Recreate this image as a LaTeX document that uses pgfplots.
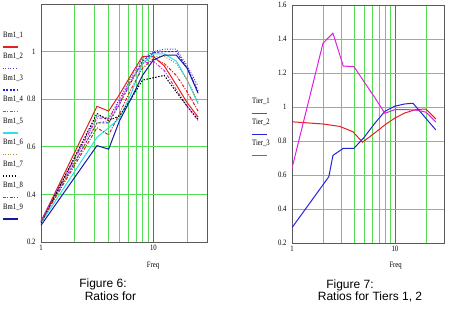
\documentclass[border=0pt]{standalone}
\usepackage{fontspec}
\setmainfont{Liberation Serif}
\newfontfamily\arial{Liberation Sans}
\newfontfamily\mcfont[FakeStretch=0.82]{Liberation Serif}
\usepackage{pgfplots}
\pgfplotsset{compat=1.18}
\definecolor{gridgreen}{HTML}{55DD55}
\definecolor{mred}{HTML}{E42020}
\definecolor{mpurple}{HTML}{5A3CD0}
\definecolor{mblue}{HTML}{2424D8}
\definecolor{mmag}{HTML}{E020E0}
\definecolor{mcyan}{HTML}{30E0E8}
\definecolor{mbrown}{HTML}{B08840}
\definecolor{mnavy}{HTML}{1818A8}
\pgfplotsset{legend image code/.code={\begin{pgfinterruptboundingbox}\draw[#1, line width=1.2pt] (0pt,-12pt) -- (15pt,-12pt);\end{pgfinterruptboundingbox}\path (0pt,0pt);}}
\begin{document}
\begin{tikzpicture}
\useasboundingbox (0,0) rectangle (451pt,311pt);
\begin{axis}[xmode=log, scale only axis, xmin=1, xmax=30,
  xtick={1,10}, xticklabels={1,10},
  minor xtick={2,3,4,5,6,7,8,9,20},
  xmajorgrids, xminorgrids, yminorgrids,
  major tick length=0pt, minor tick length=0pt,
  minor grid style={gridgreen, line width=0.7pt},
  major grid style={black!60, line width=0.7pt},
  axis line style={black!65, line width=0.7pt},
  tick label style={font=\mcfont\fontsize{8.2}{9}\selectfont},
  xticklabel style={anchor=north, yshift=0pt},
  yticklabel style={anchor=east, xshift=-2pt},
  xlabel={Freq},
  label style={font=\mcfont\fontsize{8.2}{9}\selectfont},
  legend cell align=left,
  legend style={draw=none, fill=none, font=\mcfont\fontsize{8.2}{9}\selectfont,
    row sep=14.5pt, column sep=0pt, inner sep=0pt,
    nodes={inner sep=0pt, text height=5.5pt, text depth=1.5pt}},
  at={(41pt,69pt)}, anchor=south west, width=166pt, height=238pt,
  ymin=0.2, ymax=1.2, ytick={0.2,0.4,0.6,0.8,1}, yticklabels={0.2,0.4,0.6,0.8,1},
  minor ytick={0.4,0.6,0.8,1},
  xlabel style={at={(axis description cs:0.675,0)}, anchor=center, yshift=-24pt},
  legend style={at={(axis description cs:-0.235,0.885)}, anchor=north west}]
\addplot[mred, line width=1pt] coordinates {(1,0.285)(3.15,0.77)(4,0.75)(5,0.82)(6.3,0.90)(8,0.98)(10,0.98)(12.5,0.94)(16,0.86)(20,0.785)(25,0.725)};
\addplot[mpurple, line width=1pt, dash pattern=on 1pt off 1.6pt] coordinates {(1,0.29)(3.15,0.73)(4,0.72)(5,0.80)(6.3,0.89)(8,0.97)(10,1.0)(12.5,1.01)(16,1.01)(20,0.94)(25,0.855)};
\addplot[mblue, line width=1pt, dash pattern=on 2pt off 1.5pt] coordinates {(1,0.285)(3.15,0.70)(4,0.70)(5,0.78)(6.3,0.87)(8,0.96)(10,0.995)(12.5,1.0)(16,1.0)(20,0.93)(25,0.835)};
\addplot[mmag, line width=1pt, dash pattern=on 3pt off 1.5pt on 1pt off 1.5pt] coordinates {(1,0.29)(3.15,0.72)(4,0.72)(5,0.79)(6.3,0.88)(8,0.95)(10,0.96)(12.5,0.92)(16,0.84)(20,0.77)(25,0.71)};
\addplot[mcyan, line width=1pt] coordinates {(1,0.28)(3.15,0.64)(4,0.68)(5,0.72)(6.3,0.82)(8,0.95)(10,0.99)(12.5,0.99)(16,0.96)(20,0.88)(25,0.78)};
\addplot[mbrown, line width=1pt, dash pattern=on 1pt off 1.6pt] coordinates {(1,0.285)(3.15,0.70)(4,0.71)(5,0.78)(6.3,0.87)(8,0.95)(10,0.98)(12.5,0.98)(16,0.95)(20,0.88)(25,0.79)};
\addplot[black, line width=1pt, dash pattern=on 1.5pt off 1.5pt] coordinates {(1,0.28)(3.15,0.74)(4,0.71)(5,0.73)(6.3,0.80)(8,0.88)(10,0.89)(12.5,0.90)(16,0.83)(20,0.77)(25,0.715)};
\addplot[mred, line width=1pt, dash pattern=on 3pt off 1.5pt on 1pt off 1.5pt] coordinates {(1,0.285)(3.15,0.68)(4,0.65)(5,0.74)(6.3,0.84)(8,0.93)(10,0.97)(12.5,0.95)(16,0.90)(20,0.83)(25,0.75)};
\addplot[mnavy, line width=1pt] coordinates {(1,0.27)(3.15,0.605)(4,0.59)(5,0.71)(6.3,0.80)(8,0.90)(10,0.965)(12.5,0.985)(16,0.985)(20,0.93)(25,0.825)};
\legend{Bm1\_1,Bm1\_2,Bm1\_3,Bm1\_4,Bm1\_5,Bm1\_6,Bm1\_7,Bm1\_8,Bm1\_9}
\end{axis}
\begin{axis}[xmode=log, scale only axis, xmin=1, xmax=30,
  xtick={1,10}, xticklabels={1,10},
  minor xtick={2,3,4,5,6,7,8,9,20},
  xmajorgrids, xminorgrids, yminorgrids,
  major tick length=0pt, minor tick length=0pt,
  minor grid style={gridgreen, line width=0.7pt},
  major grid style={black!60, line width=0.7pt},
  axis line style={black!65, line width=0.7pt},
  tick label style={font=\mcfont\fontsize{8.2}{9}\selectfont},
  xticklabel style={anchor=north, yshift=0pt},
  yticklabel style={anchor=east, xshift=-2pt},
  xlabel={Freq},
  label style={font=\mcfont\fontsize{8.2}{9}\selectfont},
  legend cell align=left,
  legend style={draw=none, fill=none, font=\mcfont\fontsize{8.2}{9}\selectfont,
    row sep=14pt, column sep=0pt, inner sep=0pt,
    nodes={inner sep=0pt, text height=5.5pt, text depth=1.5pt}},
  at={(292pt,68pt)}, anchor=south west, width=152pt, height=238pt,
  ymin=0.2, ymax=1.6, ytick={0.2,0.4,0.6,0.8,1,1.2,1.4,1.6}, yticklabels={0.2,0.4,0.6,0.8,1,1.2,1.4,1.6},
  minor ytick={0.4,0.6,0.8,1,1.2,1.4},
  xlabel style={at={(axis description cs:0.682,0)}, anchor=center, yshift=-23pt},
  legend style={at={(axis description cs:-0.27,0.61)}, anchor=north west}]
\addplot[mred, line width=1pt] coordinates {(1,0.913)(2,0.90)(2.9,0.886)(3.9,0.855)(4.85,0.793)(6.3,0.845)(8,0.895)(10,0.935)(12.5,0.965)(16,0.985)(20,0.988)(25,0.93)};
\addplot[mblue, line width=1pt] coordinates {(1,0.29)(2.28,0.59)(2.5,0.715)(3.15,0.757)(4,0.757)(5,0.82)(6.3,0.90)(8,0.975)(10,1.005)(12.5,1.018)(15,1.022)(25,0.865)};
\addplot[mmag, line width=1pt] coordinates {(1,0.64)(2,1.375)(2.5,1.434)(3.15,1.241)(4,1.237)(5,1.15)(6.3,1.06)(8,0.963)(10,0.985)(12.5,0.985)(16,0.982)(20,0.97)(25,0.912)};
\legend{Tier\_1,Tier\_2,Tier\_3}
\end{axis}
\node[font=\arial\fontsize{12}{14}\selectfont] at (103pt,27pt) {Figure 6:};
\node[font=\arial\fontsize{12}{14}\selectfont] at (110.5pt,15pt) {Ratios for};
\node[font=\arial\fontsize{12}{14}\selectfont] at (350pt,26pt) {Figure 7:};
\node[font=\arial\fontsize{12}{14}\selectfont] at (370pt,14.5pt) {Ratios for Tiers 1, 2};
\end{tikzpicture}
\end{document}
